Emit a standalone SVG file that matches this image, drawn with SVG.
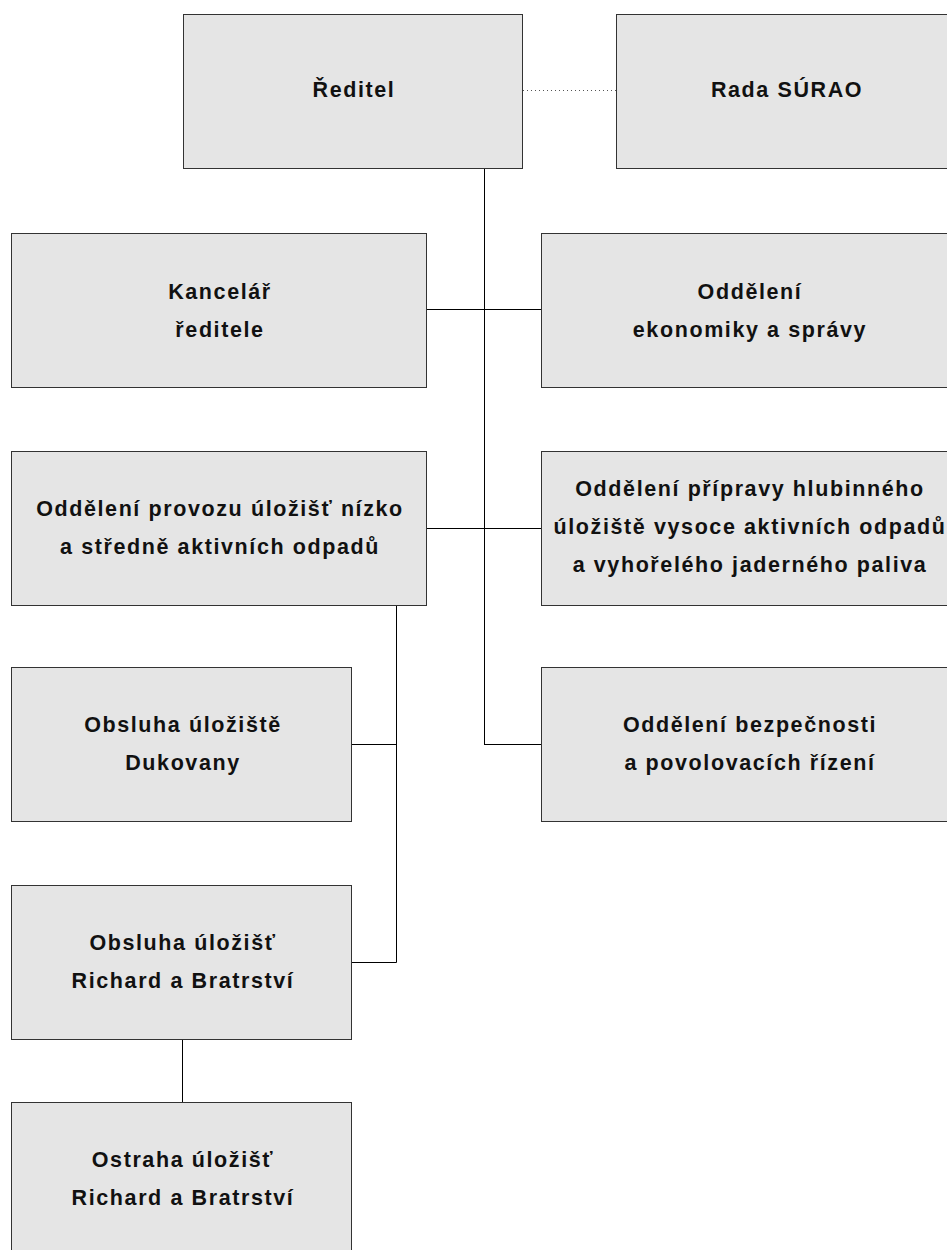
<svg xmlns="http://www.w3.org/2000/svg" width="947" height="1250" viewBox="0 0 947 1250">
<style>
.box{fill:#e5e5e5;stroke:#333;stroke-width:1}
.lbl{font-family:"Liberation Sans",Arial,sans-serif;font-weight:bold;font-size:21.5px;letter-spacing:1.6px;fill:#111;text-anchor:middle}
.ln{stroke:#000;stroke-width:1;fill:none}
.dot{stroke:#555;stroke-width:1;stroke-dasharray:1 3;fill:none}
</style>
<rect width="947" height="1250" fill="#fff"/>
<g id="connectors">
<path class="dot" d="M523,90.5H616"/>
<path class="ln" d="M484.5,168V745"/>
<path class="ln" d="M427,309.5H541"/>
<path class="ln" d="M427,528.5H541"/>
<path class="ln" d="M484,744.5H541"/>
<path class="ln" d="M396.5,605V962.5"/>
<path class="ln" d="M352,744.5H396.5"/>
<path class="ln" d="M352,962.5H396.5"/>
<path class="ln" d="M182.5,1039V1102"/>
</g>
<g id="reditel">
<rect class="box" x="183.5" y="14.5" width="339" height="154"/>
<text class="lbl" x="354" y="97">Ředitel</text>
</g>
<g id="rada">
<rect class="box" x="616.5" y="14.5" width="340" height="154"/>
<text class="lbl" x="787" y="97">Rada SÚRAO</text>
</g>
<g id="kancelar">
<rect class="box" x="11.5" y="233.5" width="415" height="154"/>
<text class="lbl" x="220" y="298.5">Kancelář</text>
<text class="lbl" x="220" y="336.5">ředitele</text>
</g>
<g id="ekonomika">
<rect class="box" x="541.5" y="233.5" width="415" height="154"/>
<text class="lbl" x="750" y="298.5">Oddělení</text>
<text class="lbl" x="750" y="336.5">ekonomiky a správy</text>
</g>
<g id="provoz">
<rect class="box" x="11.5" y="451.5" width="415" height="154"/>
<text class="lbl" x="220" y="516">Oddělení provozu úložišť nízko</text>
<text class="lbl" x="220" y="554">a středně aktivních odpadů</text>
</g>
<g id="hlubinne">
<rect class="box" x="541.5" y="451.5" width="415" height="154"/>
<text class="lbl" x="750" y="496">Oddělení přípravy hlubinného</text>
<text class="lbl" x="750" y="534">úložiště vysoce aktivních odpadů</text>
<text class="lbl" x="750" y="572">a vyhořelého jaderného paliva</text>
</g>
<g id="dukovany">
<rect class="box" x="11.5" y="667.5" width="340" height="154"/>
<text class="lbl" x="183" y="732">Obsluha úložiště</text>
<text class="lbl" x="183" y="770">Dukovany</text>
</g>
<g id="bezpecnost">
<rect class="box" x="541.5" y="667.5" width="415" height="154"/>
<text class="lbl" x="750" y="732">Oddělení bezpečnosti</text>
<text class="lbl" x="750" y="770">a povolovacích řízení</text>
</g>
<g id="obsluha-richard">
<rect class="box" x="11.5" y="885.5" width="340" height="154"/>
<text class="lbl" x="183" y="950">Obsluha úložišť</text>
<text class="lbl" x="183" y="988">Richard a Bratrství</text>
</g>
<g id="ostraha">
<rect class="box" x="11.5" y="1102.5" width="340" height="154"/>
<text class="lbl" x="183" y="1167">Ostraha úložišť</text>
<text class="lbl" x="183" y="1205">Richard a Bratrství</text>
</g>
</svg>
